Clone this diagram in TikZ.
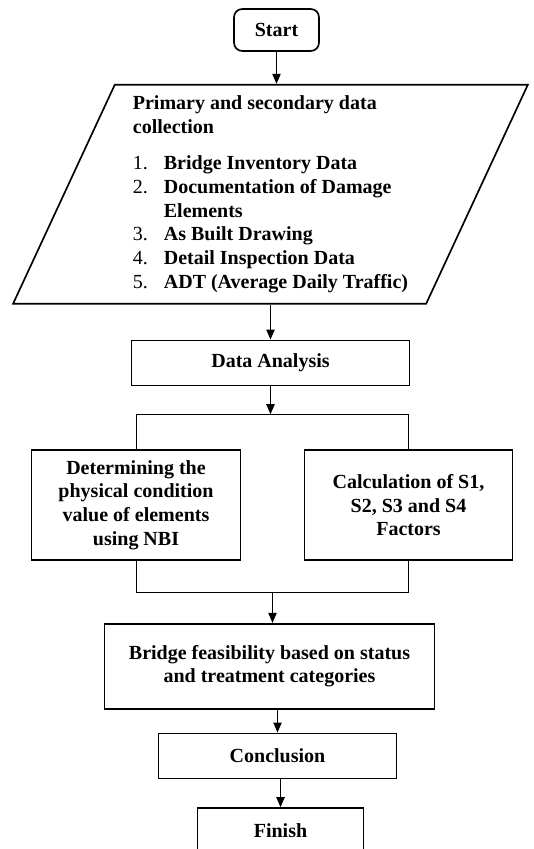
\documentclass[tikz,border=0pt]{standalone}
\usepackage{fontspec}
\setmainfont{Liberation Serif}
\usetikzlibrary{positioning, arrows.meta, shapes.geometric}

\begin{document}
\begin{tikzpicture}[
    node distance=20pt and 20pt,
    font=\fontsize{12}{14.2}\selectfont\bfseries,
    box/.style={rectangle, draw, line width=1pt, align=center, inner sep=2pt},
    terminal/.style={box, rounded corners=5pt},
    io/.style={trapezium, trapezium left angle=66, trapezium right angle=114, trapezium stretches=true, draw, line width=1pt, inner sep=0pt},
    arrow/.style={-{Triangle[length=6pt, width=5pt]}, line width=0.6pt},
    line/.style={line width=0.5pt},
]
\useasboundingbox (0,0) rectangle (320.4pt,-509.4pt);
\node[terminal, minimum width=51pt, minimum height=25.2pt] (start) at (165.9pt,-18pt) {Start};
\node[io, below=19.2pt of start, xshift=-3.6pt, minimum width=309pt, minimum height=131.4pt] (data) {%
  \begin{tabular}{@{}p{18.6pt}@{}l@{}}
  \multicolumn{2}{@{}l@{}}{Primary and secondary data}\\
  \multicolumn{2}{@{}l@{}}{collection}\\[7.5pt]
  {\mdseries 1.} & Bridge Inventory Data\\
  {\mdseries 2.} & Documentation of Damage\\
   & Elements\\
  {\mdseries 3.} & As Built Drawing\\
  {\mdseries 4.} & Detail Inspection Data\\
  {\mdseries 5.} & ADT (Average Daily Traffic)
  \end{tabular}};
\node[box, below=21pt of data, minimum width=166.8pt, minimum height=27pt] (analysis) {Data Analysis};
\node[box, below=37.8pt of analysis, xshift=-80.7pt, minimum width=125.4pt, minimum height=66pt] (nbi) {Determining the\\ physical condition\\ value of elements\\ using NBI};
\node[box, below=37.8pt of analysis, xshift=82.8pt, minimum width=124.8pt, minimum height=66pt] (factors) {Calculation of S1,\\ S2, S3 and S4\\ Factors};
\node[box, below=37.2pt of nbi, xshift=80.1pt, minimum width=198pt, minimum height=51pt] (feasibility) {Bridge feasibility based on status\\ and treatment categories};
\node[box, below=13.8pt of feasibility, xshift=4.8pt, minimum width=142.8pt, minimum height=27pt] (conclusion) {Conclusion};
\node[box, below=16.8pt of conclusion, xshift=1.8pt, minimum width=99.6pt, minimum height=27pt] (finish) {Finish};
\coordinate[below=16.8pt of analysis] (split);
\coordinate[above=18pt of feasibility.north, xshift=1.8pt] (merge);
\draw[arrow] (start.south) -- (start.south |- data.north);
\draw[arrow] (data.south) -- (data.south |- analysis.north);
\draw[arrow] (analysis.south) -- (split);
\draw[line] (nbi.north) |- (split) -| (factors.north);
\draw[line] (nbi.south) |- (merge) -| (factors.south);
\draw[arrow] (merge) -- (merge |- feasibility.north);
\draw[arrow] (conclusion.north |- feasibility.south) -- (conclusion.north);
\draw[arrow] (finish.north |- conclusion.south) -- (finish.north);

\end{tikzpicture}
\end{document}
